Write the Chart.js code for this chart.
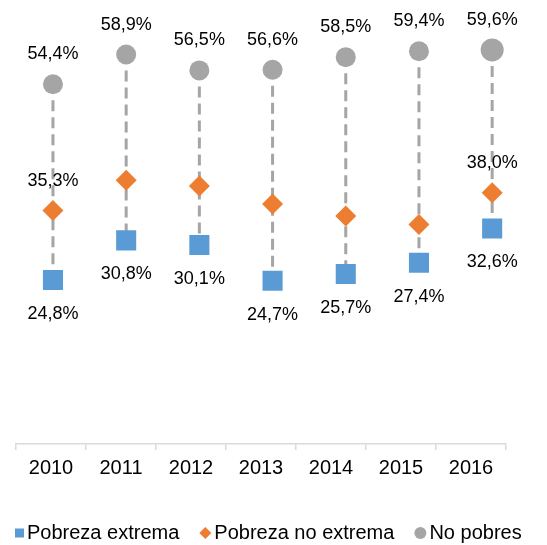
<!DOCTYPE html>
<html>
<head>
<meta charset="utf-8">
<script src="https://cdn.jsdelivr.net/npm/chart.js@4"></script>
<style>
  html, body { margin: 0; padding: 0; background: #fff; }
</style>
</head>
<body>
<canvas id="chart" width="547" height="545"></canvas>
<script>
// datos (porcentaje de la población)
const years = ['2010', '2011', '2012', '2013', '2014', '2015', '2016'];
const pobrezaExtrema   = [24.8, 30.8, 30.1, 24.7, 25.7, 27.4, 32.6];
const pobrezaNoExtrema = [35.3, 39.9, 39.0, 36.3, 34.5, 33.2, 38.0];
const noPobres         = [54.4, 58.9, 56.5, 56.6, 58.5, 59.4, 59.6];

// qué puntos llevan etiqueta
const labelsExtrema   = [0, 1, 2, 3, 4, 5, 6];
const labelsNoExtrema = [0, 6];
const labelsNoPobres  = [0, 1, 2, 3, 4, 5, 6];

const FONT = '"Liberation Sans", Arial, sans-serif';
const fmt = v => v.toFixed(1).replace('.', ',') + '%';
const toPoints = arr => arr.map((v, i) => ({ x: i, y: v }));

// líneas punteadas entre el punto más bajo y el más alto
const stems = {
  id: 'stems',
  beforeDatasetsDraw(chart) {
    const ctx = chart.ctx;
    const low = chart.getDatasetMeta(0).data;
    const high = chart.getDatasetMeta(2).data;
    ctx.save();
    ctx.strokeStyle = '#a5a5a5';
    ctx.lineWidth = 3;
    ctx.setLineDash([11, 6]);
    low.forEach((p, i) => {
      const q = high[i];
      ctx.beginPath();
      ctx.lineDashOffset = -6;
      ctx.moveTo(q.x, q.y + 10);
      ctx.lineTo(p.x, p.y);
      ctx.stroke();
    });
    ctx.restore();
  }
};

// etiquetas de valores
const valueLabels = {
  id: 'valueLabels',
  afterDatasetsDraw(chart) {
    const ctx = chart.ctx;
    const conf = [
      { show: labelsExtrema, dy: 34 },
      { show: labelsNoExtrema, dy: -30 },
      { show: labelsNoPobres, dy: -30 }
    ];
    ctx.save();
    ctx.font = '18px ' + FONT;
    ctx.fillStyle = '#000';
    ctx.textAlign = 'center';
    ctx.textBaseline = 'middle';
    chart.data.datasets.forEach((ds, d) => {
      const meta = chart.getDatasetMeta(d);
      conf[d].show.forEach(i => {
        const el = meta.data[i];
        ctx.fillText(fmt(ds.data[i].y), el.x, el.y + conf[d].dy);
      });
    });
    ctx.restore();
  }
};

// leyenda abajo
const bottomLegend = {
  id: 'bottomLegend',
  afterDraw(chart) {
    const ctx = chart.ctx;
    const y = 533;
    let x = 15;
    ctx.save();
    ctx.font = '20px ' + FONT;
    ctx.textBaseline = 'middle';
    ctx.textAlign = 'left';
    chart.data.datasets.forEach(ds => {
      const w = ds.pointStyle === 'rect' ? 9 : 12;
      ctx.fillStyle = ds.backgroundColor;
      const cx = x + w / 2;
      ctx.beginPath();
      if (ds.pointStyle === 'rect') {
        ctx.rect(x, y - 4.5, 9, 9);
      } else if (ds.pointStyle === 'rectRot') {
        ctx.moveTo(cx, y - 6); ctx.lineTo(cx + 6, y); ctx.lineTo(cx, y + 6); ctx.lineTo(cx - 6, y);
        ctx.closePath();
      } else {
        ctx.arc(cx, y, 6, 0, Math.PI * 2);
      }
      ctx.fill();
      ctx.fillStyle = '#000';
      const tx = x + w + 3;
      ctx.fillText(ds.label, tx, y);
      x = tx + ctx.measureText(ds.label).width + 20;
    });
    ctx.restore();
  }
};

new Chart(document.getElementById('chart'), {
  type: 'line',
  data: {
    labels: years,
    datasets: [{
      label: 'Pobreza extrema',
      data: toPoints(pobrezaExtrema),
      xAxisID: 'x2',
      showLine: false,
      pointStyle: 'rect',
      pointRadius: 14.2,
      backgroundColor: '#5b9bd5',
      borderColor: '#5b9bd5',
      pointBorderWidth: 0
    }, {
      label: 'Pobreza no extrema',
      data: toPoints(pobrezaNoExtrema),
      xAxisID: 'x2',
      showLine: false,
      pointStyle: 'rectRot',
      pointRadius: 10.5,
      backgroundColor: '#ed7d31',
      borderColor: '#ed7d31',
      pointBorderWidth: 0
    }, {
      label: 'No pobres',
      data: toPoints(noPobres),
      xAxisID: 'x2',
      showLine: false,
      pointStyle: 'circle',
      pointRadius: [10, 10, 10, 10, 10, 10, 11.5],
      backgroundColor: '#a5a5a5',
      borderColor: '#a5a5a5',
      pointBorderWidth: 0
    }]
  },
  options: {
    responsive: false,
    animation: false,
    events: [],
    layout: { padding: { left: 16, right: 41, top: 0, bottom: 59 } },
    plugins: {
      legend: { display: false },
      tooltip: { enabled: false }
    },
    scales: {
      x: {
        type: 'category',
        offset: true,
        grid: {
          offset: true,
          drawOnChartArea: false,
          drawTicks: true,
          tickLength: 6,
          color: '#d9d9d9',
          lineWidth: 1.5
        },
        border: { color: '#d9d9d9', width: 1.5 },
        ticks: { color: '#000', padding: 6, font: { size: 20, family: FONT } }
      },
      x2: {
        type: 'linear',
        display: false,
        min: -0.505,
        max: 6.189
      },
      y: {
        display: false,
        min: 0,
        max: 65
      }
    }
  },
  plugins: [stems, valueLabels, bottomLegend]
});
</script>
</body>
</html>
